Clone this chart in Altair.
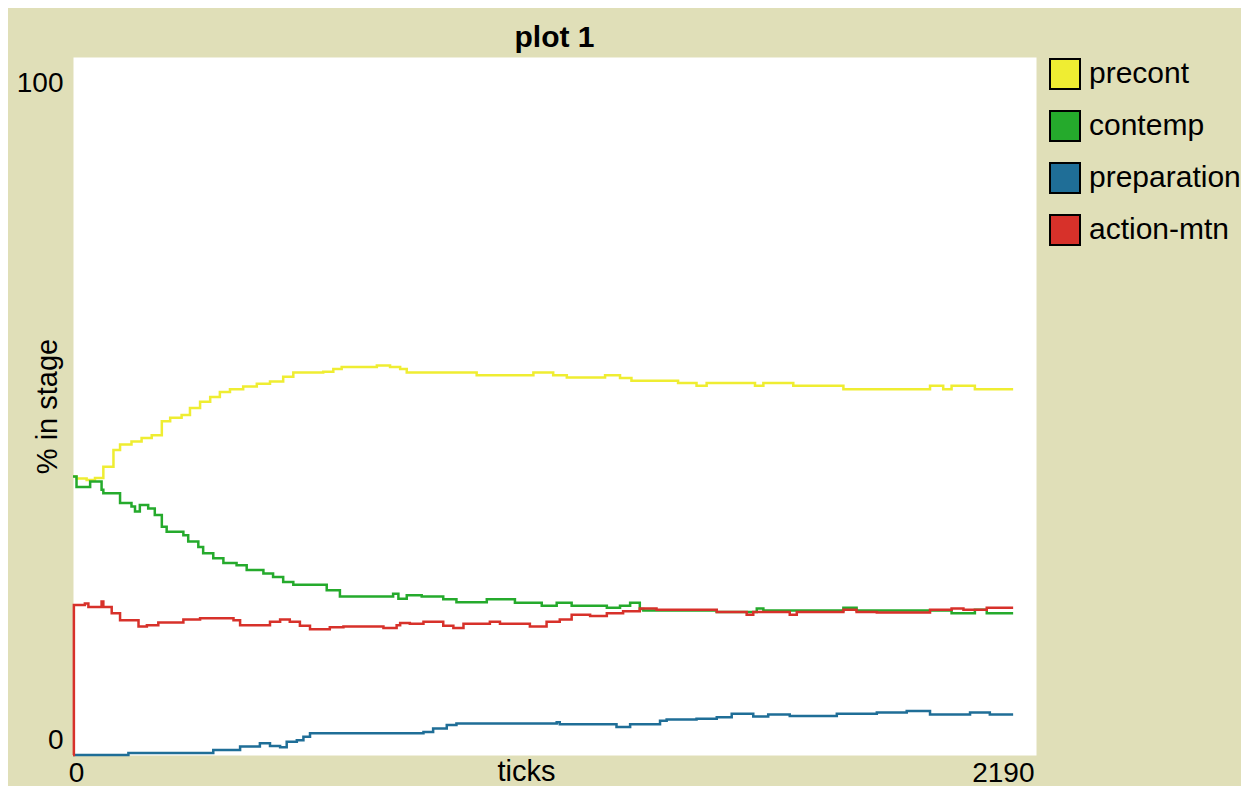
import altair as alt
import pandas as pd

series_names = ["precont", "contemp", "preparation", "action-mtn"]
series_colors = ["#efed32", "#25aa2c", "#1f6e97", "#d7312a"]

precont_t = [0, 8, 31, 50, 69, 92, 107, 133, 156, 179,
             202, 221, 247, 266, 289, 312, 334, 357, 387, 418,
             448, 478, 501, 569, 592, 611, 691, 721, 744, 759,
             918, 1047, 1092, 1123, 1210, 1244, 1270, 1376, 1418, 1441,
             1551, 1570, 1638, 1752, 1949, 1979, 1998, 2051, 2138]
precont_v = [39.9, 39.6, 39.4, 39.7, 41.3, 43.7, 44.5, 44.9, 45.4, 45.8,
             47.8, 48.3, 48.7, 49.7, 50.6, 51.3, 52.0, 52.4, 52.8, 53.2,
             53.5, 54.2, 54.8, 54.9, 55.3, 55.6, 55.8, 55.6, 55.3, 54.8,
             54.4, 54.8, 54.4, 54.1, 54.4, 54.0, 53.6, 53.3, 52.9, 53.3,
             52.9, 53.3, 52.9, 52.4, 52.9, 52.4, 52.9, 52.4, 52.4]

contemp_t = [0, 8, 39, 65, 69, 107, 133, 141, 152, 171,
             186, 202, 213, 251, 262, 285, 296, 319, 342, 372,
             395, 433, 455, 478, 501, 577, 607, 728, 740, 759,
             793, 842, 872, 941, 1005, 1066, 1100, 1134, 1214, 1244,
             1267, 1289, 1297, 1464, 1555, 1570, 1752, 1782, 1998, 2051,
             2078, 2138]
contemp_v = [39.9, 38.4, 39.2, 38.0, 37.5, 36.1, 35.6, 34.9, 35.8, 35.3,
             34.4, 32.7, 32.0, 31.5, 30.6, 29.8, 28.9, 28.2, 27.5, 27.2,
             26.5, 26.0, 25.5, 24.8, 24.4, 23.6, 22.7, 23.1, 22.4, 22.9,
             22.7, 22.3, 21.9, 22.3, 21.8, 21.4, 21.8, 21.4, 21.1, 21.4,
             21.8, 20.9, 20.7, 20.5, 21.0, 20.7, 21.1, 20.7, 20.3, 20.8,
             20.3, 20.3]

preparation_t = [0, 126, 319, 380, 425, 448, 471, 486, 509, 524,
                 539, 797, 819, 850, 872, 1100, 1107, 1236, 1267, 1335,
                 1350, 1418, 1464, 1498, 1547, 1581, 1630, 1737, 1828, 1896,
                 1949, 2040, 2085, 2138]
preparation_v = [0, 0.3, 0.7, 1.2, 1.7, 1.3, 1.1, 1.9, 2.1, 2.6,
                 3.1, 3.3, 3.8, 4.3, 4.5, 4.7, 4.4, 4.0, 4.4, 4.9,
                 5.1, 5.2, 5.4, 5.9, 5.5, 5.8, 5.6, 5.9, 6.1, 6.3,
                 5.8, 6.1, 5.8, 5.8]

action_t = [0, 2, 27, 35, 65, 69, 88, 107, 149, 168,
            194, 251, 289, 365, 380, 448, 471, 493, 516, 539,
            584, 615, 706, 736, 744, 766, 797, 842, 865, 888,
            948, 971, 1039, 1077, 1107, 1134, 1176, 1214, 1251, 1289,
            1327, 1464, 1532, 1547, 1630, 1646, 1752, 1782, 1828, 1949,
            1998, 2025, 2051, 2078, 2138]
action_v = [0, 21.5, 21.7, 21.2, 22.0, 21.2, 20.3, 19.3, 18.4, 18.6,
            19.0, 19.4, 19.6, 19.3, 18.6, 19.1, 19.4, 19.1, 18.5, 18.0,
            18.3, 18.4, 18.2, 18.6, 18.9, 18.8, 19.1, 18.5, 18.2, 18.8,
            19.1, 18.8, 18.4, 19.1, 19.4, 20.1, 19.9, 20.3, 20.6, 21.0,
            20.8, 20.5, 20.1, 20.5, 20.1, 20.5, 20.8, 20.5, 20.4, 20.8,
            21.0, 20.8, 20.8, 21.1, 21.1]

x_ticks = [0, 2190]
y_ticks = [0, 100]

rows = []
for name, ts, vs in [("precont", precont_t, precont_v),
                     ("contemp", contemp_t, contemp_v),
                     ("preparation", preparation_t, preparation_v),
                     ("action-mtn", action_t, action_v)]:
    for t, v in zip(ts, vs):
        rows.append({"series": name, "tick": t, "value": v})
df = pd.DataFrame(rows)

# line stroke scale (alphabetical domain, same colour mapping)
colour_of = dict(zip(series_names, series_colors))
stroke_domain = sorted(series_names)
stroke_range = [colour_of[n] for n in stroke_domain]

FONT = "Liberation Sans"

x_enc = alt.X("tick:Q",
              scale=alt.Scale(domain=[0, 2190], nice=False, zero=True),
              axis=alt.Axis(values=x_ticks, format="d", grid=False, domain=False, ticks=False, tickSize=0,
                            title="ticks", titleFont=FONT, titleFontSize=29,
                            titleFontWeight="normal", titleColor="black",
                            titleX=453, titleY=16, titleBaseline="middle", titleAlign="center",
                            labelFont=FONT, labelFontSize=28, labelColor="black",
                            labelBaseline="middle", labelPadding=18,
                            labelAlign={"condition": {"test": "datum.value == 0", "value": "center"},
                                        "value": "right"},
                            labelOffset={"condition": {"test": "datum.value == 0", "value": 3},
                                         "value": -2}))
y_enc = alt.Y("value:Q",
              scale=alt.Scale(domain=[0, 100], nice=False),
              axis=alt.Axis(values=y_ticks, grid=False, domain=False, ticks=False, tickSize=0,
                            title="% in stage", titleFont=FONT, titleFontSize=29,
                            titleFontWeight="normal", titleColor="black",
                            titleX=-26, titleY=349, titleBaseline="middle", titleAlign="center",
                            labelFont=FONT, labelFontSize=28, labelColor="black",
                            labelAlign="right", labelBaseline="middle", labelPadding=10,
                            labelOffset={"condition": {"test": "datum.value == 100", "value": 26},
                                         "value": -15}))

lines = alt.Chart(df).mark_line(strokeWidth=2.5, interpolate="step-after", clip=False).encode(
    x=x_enc,
    y=y_enc,
    stroke=alt.Stroke("series:N",
                      scale=alt.Scale(domain=stroke_domain, range=stroke_range),
                      legend=None),
    detail="series:N",
)

# invisible filled squares that carry the legend (filled swatches, black outline)
swatches = alt.Chart(df).mark_square(size=0, filled=True, opacity=1).encode(
    x="tick:Q",
    y="value:Q",
    fill=alt.Fill("series:N",
                  scale=alt.Scale(domain=series_names, range=series_colors),
                  legend=alt.Legend(title=None, orient="none", legendX=976, legendY=1,
                                    direction="vertical",
                                    symbolType="square", symbolSize=900,
                                    symbolStrokeColor="black", symbolStrokeWidth=2,
                                    symbolOpacity=1,
                                    labelFont=FONT, labelFontSize=30, labelColor="black",
                                    labelOffset=8, rowPadding=14, padding=0)),
)

chart = alt.layer(lines, swatches).properties(
    width=963,
    height=698,
    title=alt.TitleParams("plot 1", font=FONT, fontSize=30, fontWeight="bold",
                          color="black", anchor="middle", baseline="alphabetic", offset=8, dy=28),
    background="#e0dfb8",
    autosize=alt.AutoSizeParams(type="none"),
    padding={"left": 65, "top": 49, "right": 205, "bottom": 31},
).configure_view(fill="white", stroke="transparent")

chart.save("out.html", embed_options={"renderer": "svg", "actions": False})
